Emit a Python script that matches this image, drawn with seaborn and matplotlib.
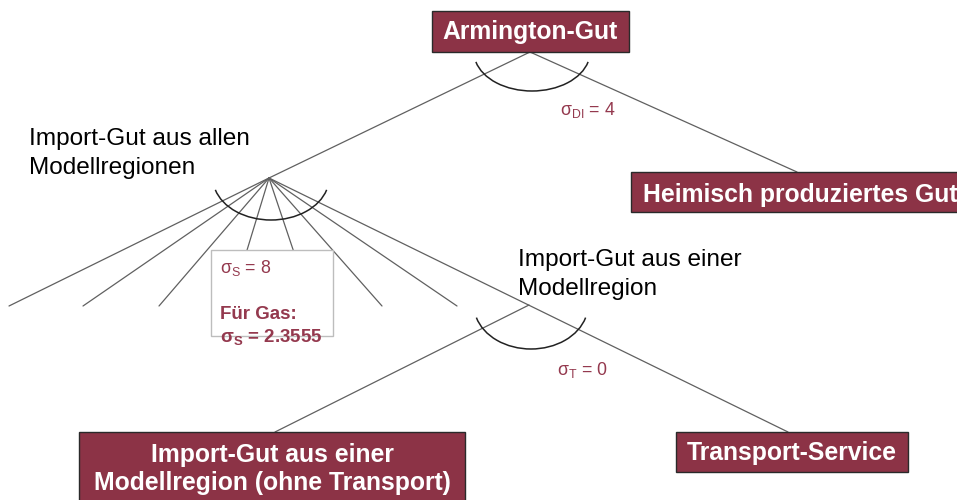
import numpy as np
import pandas as pd
import matplotlib
matplotlib.use("Agg")
import matplotlib.pyplot as plt
import seaborn as sns
from matplotlib.patches import Rectangle, Arc

sns.set_theme(style="white")
plt.rcParams['font.family'] = ['Liberation Sans', 'DejaVu Sans']
plt.rcParams['mathtext.fontset'] = 'custom'
plt.rcParams['mathtext.rm'] = 'Liberation Sans'
plt.rcParams['mathtext.it'] = 'Liberation Sans'
plt.rcParams['mathtext.bf'] = 'Liberation Sans:bold'

MAROON = '#8c3346'
TEXT_RED = '#94394e'

# nodes of the nesting tree (pixel layout, y downwards)
node_names = ["armington", "hub_all", "hub_one"]
node_x = [530, 269, 529]
node_y = [52, 178, 305]

# edges: start node, end point
edge_from = ["armington", "armington",
             "hub_all", "hub_all", "hub_all", "hub_all", "hub_all",
             "hub_all", "hub_all", "hub_all", "hub_one"]
edge_end_x = [269, 797, 9, 83, 159, 230, 312, 382, 457, 788, 275]
edge_end_y = [178, 172, 306, 306, 306, 306, 306, 306, 306, 432, 432]

# substitution arcs (half width, half height, opening angle)
arc_node = ["armington", "hub_all", "hub_one"]
arc_a = [58, 58, 57]
arc_b = [39, 42, 44]
arc_open = [10, 12, 13]

# filled boxes
box_labels = ["Armington-Gut", "Heimisch produziertes Gut",
              "Import-Gut aus einer\nModellregion (ohne Transport)",
              "Transport-Service"]
box_x0 = [432, 631, 79, 676]
box_y0 = [11, 172, 432, 432]
box_x1 = [629, 975, 465, 908]
box_y1 = [52, 212, 510, 472]
box_tx = [530, 643, 272, 792]
box_ha = ["center", "left", "center", "center"]
box_base = [39, 202, 462, 460]

# free labels
free_labels = ["Import-Gut aus allen\nModellregionen",
               "Import-Gut aus einer\nModellregion"]
free_x = [29, 518]
free_base = [145, 266]

sigma_labels = [r"σ$_{\mathrm{DI}}$ = 4", r"σ$_{\mathrm{T}}$ = 0"]
sigma_x = [560, 557]
sigma_base = [115, 375]

fig = plt.figure(figsize=(9.57, 5.0), dpi=100)
ax = fig.add_axes([0, 0, 1, 1])

pos = dict(zip(node_names, zip(node_x, node_y)))
rows = []
for i, (n, ex, ey) in enumerate(zip(edge_from, edge_end_x, edge_end_y)):
    sx, sy = pos[n]
    rows.append({"edge": i, "step": 0, "x": sx, "y": sy})
    rows.append({"edge": i, "step": 1, "x": ex, "y": ey})
edges = pd.DataFrame(rows)
sns.lineplot(data=edges, x="x", y="y", units="edge", estimator=None, sort=False,
             color="#606060", lw=0.9, ax=ax, zorder=1)

for n, a, b, o in zip(arc_node, arc_a, arc_b, arc_open):
    cx, cy = pos[n]
    ax.add_patch(Arc((cx + 2, cy), 2 * a, 2 * b, theta1=o, theta2=180 - o,
                     color="#222222", lw=1.1, zorder=2))

# sigma box with gas value
ax.add_patch(Rectangle((211, 250), 122, 86, facecolor="white",
                       edgecolor="#bdbdbd", lw=1, zorder=3))
ax.text(220, 273, r"σ$_{\mathrm{S}}$ = 8", color=TEXT_RED, fontsize=12.8, zorder=4)
ax.text(220, 319, "Für Gas:", color=TEXT_RED, fontsize=13.5,
        fontweight="bold", zorder=4)
ax.text(220, 342, r"σ$_{\mathbf{S}}$ = 2.3555", color=TEXT_RED, fontsize=13.5,
        fontweight="bold", zorder=4)

LINE_GAP = 28
for lab, x0, y0, x1, y1, tx, ha, yb in zip(box_labels, box_x0, box_y0, box_x1,
                                           box_y1, box_tx, box_ha, box_base):
    ax.add_patch(Rectangle((x0, y0), x1 - x0, y1 - y0, facecolor=MAROON,
                           edgecolor="#2a2a2a", lw=1, zorder=3))
    for k, line in enumerate(lab.split("\n")):
        ax.text(tx, yb + k * LINE_GAP, line, ha=ha, va="baseline", color="white",
                fontsize=17.8, fontweight="bold", zorder=4)

for lab, x, yb in zip(free_labels, free_x, free_base):
    for k, line in enumerate(lab.split("\n")):
        ax.text(x, yb + k * 29, line, ha="left", va="baseline", color="black",
                fontsize=17.6, zorder=4)

for lab, x, yb in zip(sigma_labels, sigma_x, sigma_base):
    ax.text(x, yb, lab, ha="left", va="baseline", color=TEXT_RED, fontsize=12.8,
            zorder=4)

ax.set_xlim(0, 957)
ax.set_ylim(500, 0)
ax.axis("off")

fig.savefig("out.png", dpi=100)
